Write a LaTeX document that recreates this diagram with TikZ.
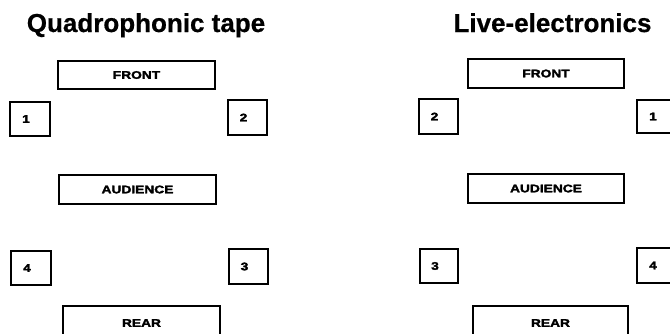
\documentclass[tikz,border=0pt]{standalone}
\usepackage{fontspec}
\setmainfont{Liberation Sans}
\newfontfamily\labelfont[FakeStretch=1.25,FakeBold=2.5]{Liberation Sans Bold}
\newfontfamily\titlefont[FakeBold=0.6]{Liberation Sans Bold}
\newcommand\dg[1]{\hspace*{-8pt}#1}
\begin{document}
\begin{tikzpicture}[x=1pt,y=-1pt,
  title/.style={font=\titlefont\fontsize{26}{30}\selectfont, anchor=base, inner sep=0},
  wide/.style={draw, line width=1.2pt, inner sep=0, font=\labelfont\fontsize{11}{12}\selectfont},
  spk/.style={draw, line width=1.2pt, inner sep=0, minimum width=40pt, minimum height=34pt, font=\labelfont\fontsize{11}{12}\selectfont}]
\useasboundingbox (0,0) rectangle (670,333);
\clip (0,0) rectangle (670,333);
% left panel
\node[title] (tl) at (146,32) {Quadrophonic tape};
\node[wide, minimum width=157pt, minimum height=28pt] (fl) at (136.5,75) {FRONT};
\node[spk] (l1) at (30,119) {\dg{1}};
\node[spk, minimum width=39pt, minimum height=35pt] (l2) at (247.5,117.5) {\dg{2}};
\node[wide, minimum width=157pt, minimum height=29pt] (al) at (137.5,189.5) {AUDIENCE};
\node[spk] (l4) at (31,268) {\dg{4}};
\node[spk, minimum width=39pt, minimum height=35pt] (l3) at (248.5,266.5) {\dg{3}};
\node[wide, minimum width=157pt, minimum height=34pt] (rl) at (141.5,323) {REAR};
% right panel
\node[title] (tr) at (552.5,32) {Live-electronics};
\node[wide, minimum width=156pt, minimum height=29pt] (fr) at (546,73.5) {FRONT};
\node[spk, minimum width=39pt, minimum height=35pt] (r2) at (438.5,116.5) {\dg{2}};
\node[spk, minimum height=33pt] (r1) at (657,116.5) {\dg{1}};
\node[wide, minimum width=156pt, minimum height=29pt] (ar) at (546,188.5) {AUDIENCE};
\node[spk, minimum width=38pt] (r3) at (439,266) {\dg{3}};
\node[spk, minimum height=35pt] (r4) at (657,265.5) {\dg{4}};
\node[wide, minimum width=155pt, minimum height=34pt] (rr) at (550.5,323) {REAR};
\end{tikzpicture}
\end{document}
